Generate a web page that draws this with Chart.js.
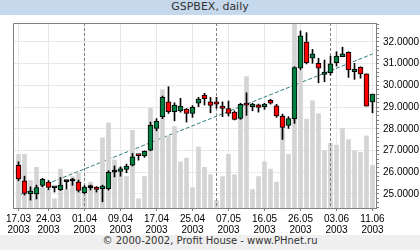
<!DOCTYPE html>
<html>
<head>
<meta charset="utf-8">
<script src="https://cdn.jsdelivr.net/npm/chart.js@4.4.0/dist/chart.umd.min.js"></script>
<style>
  html, body { margin: 0; padding: 0; background: #fff; }
  #wrap { width: 420px; height: 250px; overflow: hidden; }
  #title { height: 15px; line-height: 15px; background: #c6d9ec; color: #333; text-align: center;
           font: 11px "DejaVu Sans", sans-serif; }
  #footer { height: 15px; line-height: 15px; background: #efefef; color: #333; text-align: center;
            font: 10px "DejaVu Sans", sans-serif; }
  canvas { display: block; }
</style>
</head>
<body>
<div id="wrap">
  <div id="title">GSPBEX, daily</div>
  <canvas id="gspbexChart" width="420" height="220"></canvas>
  <div id="footer">© 2000-2002, Profit House - www.PHnet.ru</div>
</div>
<script>
// trading days 17.03.2003 - 11.06.2003
const dates = ['17.03','18.03','19.03','20.03','21.03','24.03','25.03','26.03','27.03','28.03',
               '31.03','01.04','02.04','03.04','04.04','07.04','08.04','09.04','10.04','11.04',
               '14.04','15.04','16.04','17.04','18.04','21.04','22.04','23.04','24.04','25.04',
               '28.04','29.04','30.04','05.05','06.05','07.05','08.05','12.05','13.05','14.05',
               '15.05','16.05','19.05','20.05','21.05','22.05','23.05','26.05','27.05','28.05',
               '29.05','30.05','02.06','03.06','04.06','05.06','06.06','09.06','10.06','11.06'];

const open  = [26.32,25.61,25.02,25.00,25.40,25.55,25.28,25.20,25.57,25.60,
               25.55,25.06,25.29,25.32,25.24,25.24,26.01,26.04,26.13,26.33,
               26.79,26.75,27.02,28.02,28.56,29.24,28.79,28.83,28.91,28.71,
               29.18,29.56,29.24,29.24,29.05,28.93,28.77,28.48,29.11,29.02,
               29.11,29.02,29.31,29.06,28.58,28.16,28.47,30.79,32.00,31.25,
               31.02,30.51,30.59,31.05,31.32,31.52,30.63,30.83,30.53,29.24];
const high  = [26.48,25.82,25.33,25.41,25.72,25.62,25.30,25.76,25.60,25.72,
               25.64,25.39,25.41,25.34,25.41,26.07,26.29,26.25,26.38,26.87,
               26.80,26.99,28.31,28.47,29.51,29.94,29.20,29.41,28.94,29.07,
               29.45,29.64,29.45,29.45,29.24,29.28,28.83,29.18,29.66,29.18,
               29.14,29.18,29.36,29.13,28.68,28.56,30.86,32.51,32.43,31.66,
               31.25,31.17,31.35,31.55,31.76,31.55,31.02,30.86,30.53,29.60];
const low   = [25.61,24.95,24.72,24.77,25.33,25.20,25.09,25.16,25.23,25.40,
               25.09,25.02,25.18,25.09,24.64,25.18,25.79,25.82,25.98,26.29,
               26.56,26.69,26.99,27.91,28.47,28.71,28.37,28.77,28.31,28.53,
               29.02,29.10,28.74,28.94,28.56,28.59,28.41,28.44,28.62,28.83,
               28.77,28.90,29.14,28.53,27.51,28.02,28.25,30.71,30.99,31.02,
               30.12,30.17,30.48,30.89,31.32,30.37,30.28,30.33,29.05,28.74];
const close = [25.70,25.03,25.13,25.30,25.67,25.30,25.28,25.41,25.57,25.60,
               25.17,25.32,25.29,25.21,25.36,26.00,26.01,26.16,26.29,26.71,
               26.77,26.96,28.16,28.36,29.45,28.79,29.10,29.05,28.71,28.99,
               29.37,29.39,29.08,29.14,28.94,28.71,28.44,29.13,29.09,29.14,
               28.99,29.14,29.18,28.59,28.07,28.47,30.82,32.28,31.05,31.45,
               30.79,30.62,30.99,31.35,31.45,30.71,30.74,30.53,29.05,29.60];
// volume, relative units (axis top = 100)
const volume = [29,29,15,22,11,10,5,21,10,17,19,10,14,10,38,46,26,22,17,42,
                5,17,54,45,64,39,44,25,27,11,33,22,18,4,17,29,18,53,71,10,
                17,25,21,14,50,29,103,74,48,58,51,31,35,34,43,37,31,30,39,23];

const tickIdx = [0, 5, 11, 17, 23, 29, 35, 41, 47, 53, 59];
const monthStarts = [11, 33, 52];
const yTicks = [25, 26, 27, 28, 29, 30, 31, 32];
const trend = [{ x: 0, y: 24.94 }, { x: 59, y: 31.45 }];

const GREEN = '#008040', RED = '#ff0000';
const axisFont = { family: "'Liberation Sans', Arial, sans-serif", size: 10, lineHeight: 1.1 };

const minorTicks = [];
for (let v = yTicks[0] - 0.6; v <= yTicks[yTicks.length - 1] + 0.81; v += 0.2) minorTicks.push(+v.toFixed(1));
const isMajor = v => Math.abs(v - Math.round(v)) < 1e-6;

const framePlugin = {
  id: 'frame',
  afterDatasetDraw(chart, args) {
    if (args.index !== 1) return;            // right after the volume bars
    const { ctx, chartArea: a, scales: { x } } = chart;
    ctx.save();
    ctx.strokeStyle = '#808080';
    ctx.lineWidth = 1;
    ctx.setLineDash([3, 2]);
    monthStarts.forEach(i => {
      const px = x.getPixelForValue(i);
      ctx.beginPath();
      ctx.moveTo(px, a.top);
      ctx.lineTo(px, a.bottom);
      ctx.stroke();
    });
    ctx.restore();
  },
  afterDatasetsDraw(chart) {
    const { ctx, chartArea: a } = chart;
    ctx.save();
    ctx.strokeStyle = '#808080';
    ctx.lineWidth = 1;
    ctx.beginPath();
    ctx.moveTo(a.left + 0.5, a.bottom);
    ctx.lineTo(a.left + 0.5, a.top + 0.5);
    ctx.lineTo(a.right + 1, a.top + 0.5);
    ctx.stroke();
    ctx.restore();
  }
};

const ctx = document.getElementById('gspbexChart').getContext('2d');
const chart = new Chart(ctx, {
  data: {
    datasets: [
      {
        type: 'line',
        data: trend,
        borderColor: '#2e7d7d',
        borderWidth: 1,
        borderDash: [4, 2],
        pointRadius: 0,
        yAxisID: 'y',
        order: 4
      },
      {
        type: 'bar',
        data: volume.map((v, i) => ({ x: i, y: v })),
        backgroundColor: '#d4d4d4',
        barThickness: 4,
        grouped: false,
        yAxisID: 'vol',
        order: 3
      },
      {
        type: 'bar',
        data: dates.map((d, i) => ({ x: i, y: [low[i], high[i]] })),
        backgroundColor: '#000',
        barThickness: 1,
        grouped: false,
        yAxisID: 'y',
        order: 2
      },
      {
        type: 'bar',
        data: dates.map((d, i) => ({ x: i, y: [open[i], close[i]] })),
        backgroundColor: dates.map((d, i) => close[i] > open[i] ? GREEN : (close[i] < open[i] ? RED : '#000')),
        borderColor: '#000',
        borderWidth: 1,
        borderSkipped: false,
        barThickness: 5,
        minBarLength: 2,
        grouped: false,
        yAxisID: 'y',
        order: 1
      }
    ]
  },
  options: {
    responsive: false,
    animation: false,
    devicePixelRatio: 1,
    layout: { autoPadding: false, padding: { top: 8, left: 13, right: 0, bottom: 0 } },
    plugins: {
      legend: { display: false },
      tooltip: { enabled: false }
    },
    scales: {
      x: {
        type: 'linear',
        offset: false,
        min: -0.9167,
        max: 59.5833,
        afterBuildTicks: s => { s.ticks = tickIdx.map(v => ({ value: v })); },
        afterFit: s => { s.height = 27; s.paddingLeft = 0; s.paddingRight = 0; },
        ticks: {
          autoSkip: false,
          maxRotation: 0,
          padding: 3,
          color: '#000',
          font: axisFont,
          callback: v => [dates[v], '2003']
        },
        grid: { offset: false, color: '#e8e8e8', tickColor: '#808080', tickLength: 3 },
        border: { color: '#808080' }
      },
      y: {
        position: 'right',
        min: 24.355,
        max: 32.875,
        afterBuildTicks: s => { s.ticks = minorTicks.map(v => ({ value: v })); },
        afterFit: s => { s.width = 44; s.paddingTop = 0; s.paddingBottom = 0; },
        ticks: {
          autoSkip: false,
          padding: 4,
          color: '#000',
          font: axisFont,
          callback: v => isMajor(v) ? v.toFixed(4) : ''
        },
        grid: {
          color: c => c.tick && isMajor(c.tick.value) ? '#e8e8e8' : 'rgba(0,0,0,0)',
          tickColor: '#808080',
          tickLength: 3
        },
        border: { color: '#808080' }
      },
      vol: {
        display: false,
        min: 0,
        max: 100
      }
    }
  },
  plugins: [framePlugin]
});
</script>
</body>
</html>
